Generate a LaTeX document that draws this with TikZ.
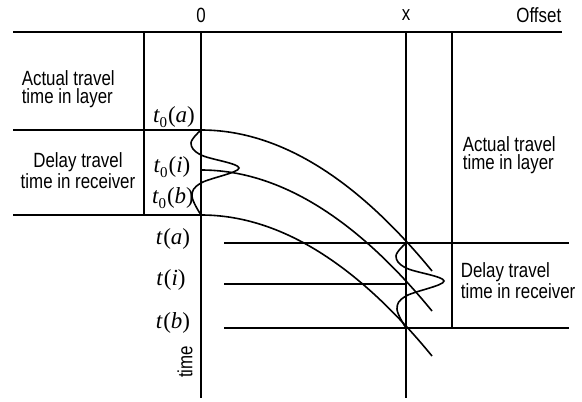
\documentclass[tikz,border=0pt]{standalone}
\usepackage{fontspec}
\setmainfont[FakeStretch=0.82]{Liberation Sans}
\newfontfamily\serif{Liberation Serif}
% travel-time labels: t_0(.) at the origin, t(.) at offset x
\newcommand\tzero[1]{{\serif\fontsize{11.5}{13}\selectfont\itshape t\upshape\raisebox{-0.45ex}{\fontsize{7.5}{8}\selectfont 0}\kern0.5pt(\itshape #1\/\upshape)}}
\newcommand\tplain[1]{{\serif\fontsize{11.5}{13}\selectfont\itshape t\upshape\kern0.5pt(\itshape #1\/\upshape)}}
\begin{document}
\begin{tikzpicture}[x=0.5pt,y=-0.5pt,line width=0.8pt,
  txt/.style={font=\fontsize{10.3}{8.9}\selectfont,inner sep=0pt},
  mlab/.style={inner sep=0pt},
  boldline/.style={line width=1.3pt},
  wavelet/.style={smooth,tension=0.6}]
\useasboundingbox (0,0) rectangle (582,401);

% frame coordinates
\coordinate (TL) at (13,32);   \coordinate (TR) at (562,32);
\coordinate (Lt) at (144,32);  \coordinate (Lb) at (144,215);
\coordinate (Ot) at (201,32);  \coordinate (Ob) at (201,398);
\coordinate (Xt) at (406,32);  \coordinate (Xb) at (406,398);
\coordinate (Rt) at (452,32);  \coordinate (Rb) at (452,328);
\coordinate (A0l) at (13,130); \coordinate (A0) at (201,130);
\coordinate (I0) at (201,170);
\coordinate (B0l) at (13,215); \coordinate (B0) at (201,215);
\coordinate (Tal) at (224,243); \coordinate (Tar) at (569,243);
\coordinate (Til) at (224,284); \coordinate (Ti) at (406,284);
\coordinate (Tbl) at (224,328); \coordinate (Tbr) at (569,328);
\coordinate (Ta) at (406,243);  \coordinate (Tb) at (406,328);
\coordinate (EA) at (432,271);  \coordinate (EI) at (432,311);
\coordinate (EB) at (432,356);

% axes and grid lines
\draw (TL) -- (TR);
\draw (Lt) -- (Lb);
\draw (Ot) -- (Ob);
\draw (Xt) -- (Xb);
\draw (Rt) -- (Rb);
\draw (A0l) -- (A0);
\draw (B0l) -- (B0);
\draw (Tal) -- (Tar);
\draw[boldline] (Til) -- (Ti);
\draw (Tbl) -- (Tbr);

% moveout curves
\draw (A0) .. controls +(77,0) and +(-77,-94) .. (EA);
\draw (I0) .. controls +(77,0) and +(-77,-94) .. (EI);
\draw (B0) .. controls +(77,0) and +(-77,-94) .. (EB);

% wavelets at zero offset and at offset x
\draw[shift={(A0)}] plot[wavelet] coordinates {(0,0) (-10,13) (0,25) (38,38) (0,53) (-9,66) (0,85)};
\draw[shift={(Ta)}] plot[wavelet] coordinates {(0,0) (-10,13) (0,25) (38,38) (0,53) (-9,66) (0,85)};

% axis labels
\node[txt] (lab0) at (201,15) {0};
\node[txt] (labx) at (406,15) {x};
\node[txt,anchor=east] (laboff) at (562,15) {Offset};
\node[txt,rotate=90] (labtime) at (185,362) {time};

% interval labels
\node[txt,anchor=west,align=left] (actL) at (21,89) {Actual travel\\time in layer};
\node[txt,align=center] (delL) at (78,171) {Delay travel\\time in receiver};
\node[txt,anchor=west,align=left] (actR) at (462,155) {Actual travel\\time in layer};
\node[txt,anchor=west,align=left] (delR) at (460,281) {Delay travel\\time in receiver};

% travel-time labels
\node[mlab] (t0a) at (174,117) {\tzero{a}};
\node[mlab] (t0i) at (172,167) {\tzero{i}};
\node[mlab] (t0b) at (173,198) {\tzero{b}};
\node[mlab] (ta) at (173,239) {\tplain{a}};
\node[mlab] (ti) at (171,280) {\tplain{i}};
\node[mlab] (tb) at (173,323) {\tplain{b}};
\end{tikzpicture}
\end{document}
